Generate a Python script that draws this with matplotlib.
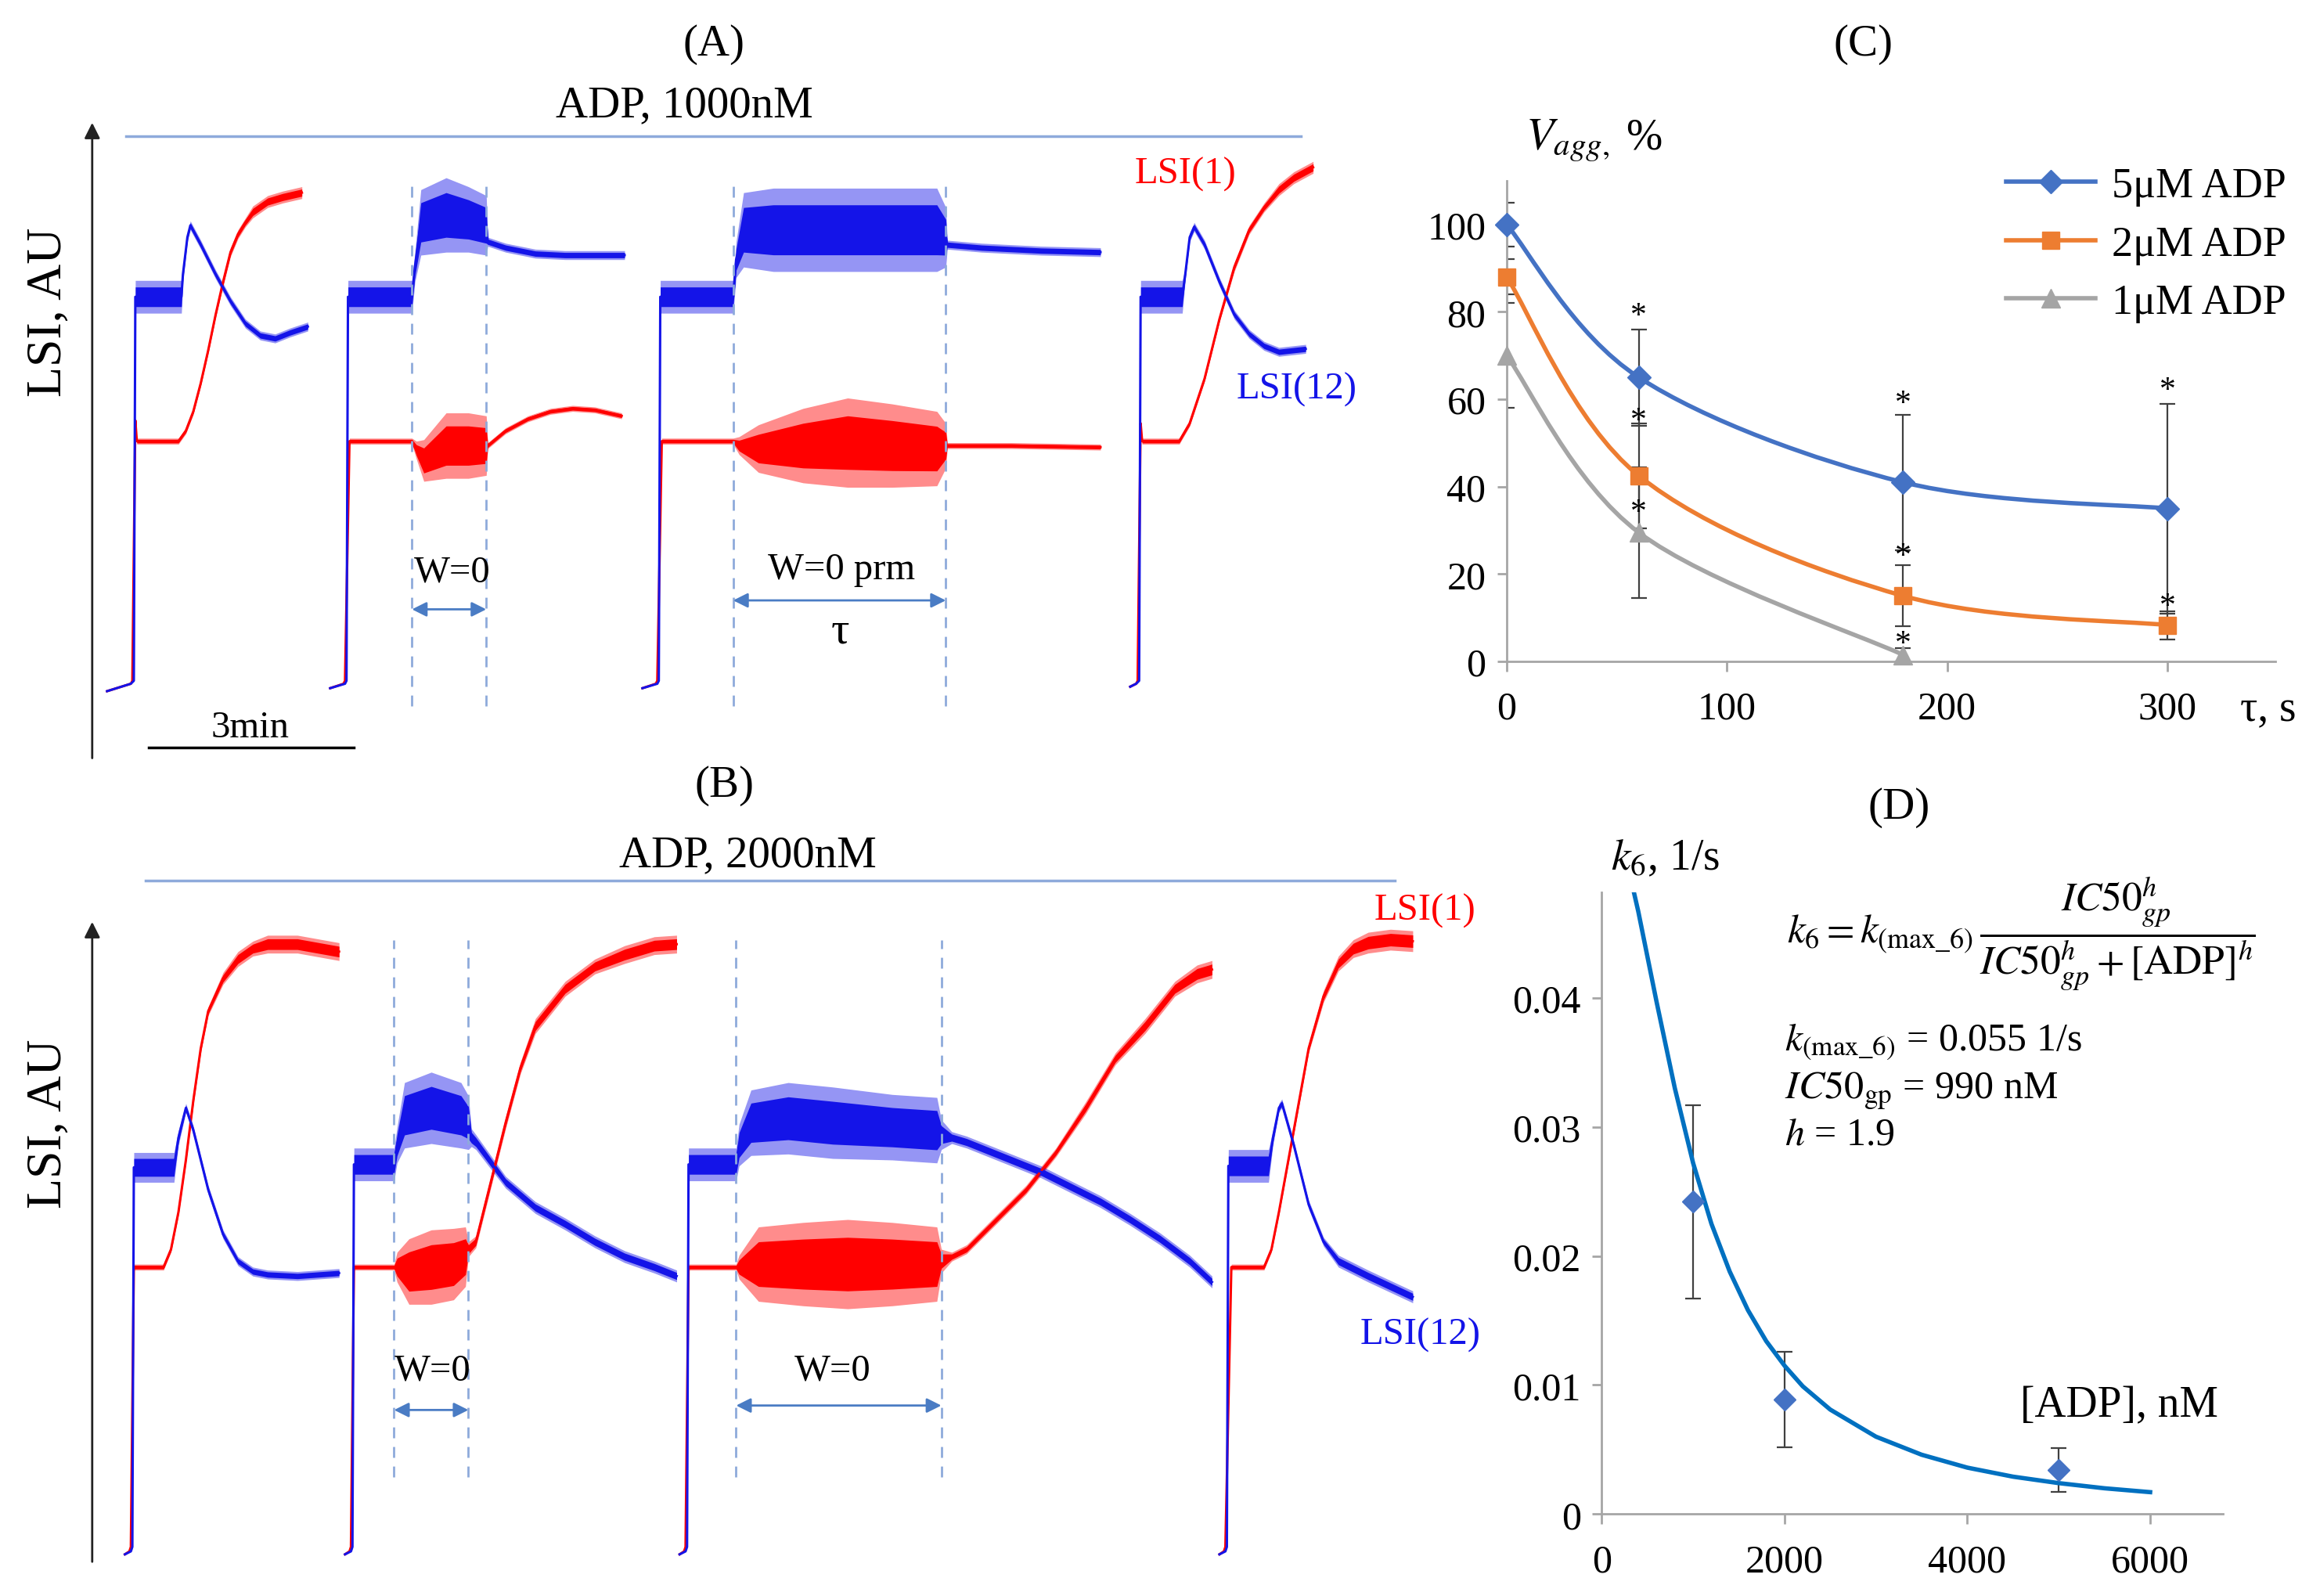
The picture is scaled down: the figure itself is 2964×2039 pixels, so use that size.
import numpy as np
import matplotlib.pyplot as plt
from matplotlib.path import Path
from matplotlib.patches import PathPatch
from matplotlib.lines import Line2D

plt.rcParams['font.family'] = ['Liberation Serif', 'DejaVu Serif']
plt.rcParams['mathtext.fontset'] = 'stix'

BLUE = '#1414e8'
RED = '#ff0000'
GUIDE = '#8eaadb'
ARROW = '#4a7cc4'
SERIF = ['Liberation Serif', 'DejaVu Serif']

# ---------------- panel A traces (t in AU, 138 units = 3 min; LSI in AU) ----------------
a1_blue_t = [72, 88, 90, 91, 122, 123, 126, 128, 135, 145, 155, 165, 175, 185, 195, 207]
a1_blue_lsi = [-2, 3, 5, 263, 263, 278, 303, 311, 298, 278, 260, 245, 237, 235, 239, 243]
a1_blue_noise = [0, 0, 0, 11, 11, 5, 3, 3, 3, 3, 3, 3, 3, 3, 3, 3]
a1_red_t = [72, 88, 89, 91, 92, 120, 125, 130, 135, 140, 145, 150, 155, 160, 165, 170, 180, 190, 203]
a1_red_lsi = [-2, 3, 5, 180, 166, 166, 173, 186, 205, 227, 251, 273, 293, 305, 313, 320, 327, 330, 333]
a1_red_noise = [0, 0, 0, 0, 2, 2, 2, 2, 2, 2, 2, 3, 3, 3, 3, 4, 4, 4, 4]

a2_blue_t = [222, 232, 233, 234, 277, 279, 283, 300, 315, 327, 328, 340, 360, 380, 420]
a2_blue_lsi = [0, 3, 5, 263, 263, 283, 313, 318, 315, 311, 300, 296, 292, 291, 291]
a2_blue_noise = [0, 0, 0, 11, 11, 10, 22, 25, 22, 20, 3, 3, 3, 3, 3]
a2_red_t = [222, 231, 232, 235, 277, 280, 285, 300, 315, 327, 328, 340, 355, 370, 385, 400, 418]
a2_red_lsi = [0, 3, 5, 166, 166, 160, 153, 163, 163, 163, 163, 173, 181, 186, 188, 187, 183]
a2_red_noise = [0, 0, 0, 2, 2, 6, 14, 22, 22, 20, 2, 2, 2, 2, 2, 2, 2]

a3_blue_t = [432, 442, 443, 444, 493, 495, 500, 520, 560, 600, 630, 636, 637, 660, 700, 740]
a3_blue_lsi = [0, 3, 5, 263, 263, 288, 308, 308, 308, 308, 308, 303, 298, 296, 294, 293]
a3_blue_noise = [0, 0, 0, 11, 11, 12, 25, 28, 28, 28, 28, 20, 3, 3, 3, 3]
a3_red_t = [432, 441, 442, 445, 493, 497, 510, 540, 570, 600, 630, 636, 637, 680, 740]
a3_red_lsi = [0, 3, 5, 166, 166, 163, 161, 163, 165, 163, 161, 163, 163, 163, 162]
a3_red_noise = [0, 0, 0, 2, 2, 6, 16, 25, 30, 28, 25, 15, 2, 2, 2]

a4_blue_t = [760, 764, 766, 767, 795, 797, 800, 803, 810, 820, 830, 840, 850, 860, 878]
a4_blue_lsi = [1, 3, 5, 263, 263, 278, 303, 310, 298, 273, 251, 238, 230, 226, 228]
a4_blue_noise = [0, 0, 0, 11, 11, 4, 3, 3, 3, 3, 3, 3, 3, 3, 3]
a4_red_t = [760, 764, 765, 767, 768, 793, 800, 810, 820, 830, 840, 850, 860, 870, 883]
a4_red_lsi = [1, 3, 5, 178, 166, 166, 178, 208, 248, 283, 308, 323, 335, 343, 350]
a4_red_noise = [0, 0, 0, 0, 2, 2, 2, 2, 2, 3, 3, 3, 4, 4, 4]

# ---------------- panel B traces ----------------
b1_blue_t = [84, 88, 89, 90, 117, 120, 125, 130, 140, 150, 160, 170, 180, 200, 228]
b1_blue_lsi = [0, 2, 5, 260, 260, 280, 300, 285, 245, 215, 197, 190, 188, 187, 189]
b1_blue_noise = [0, 0, 0, 10, 10, 5, 3, 3, 3, 3, 3, 3, 3, 3, 3]
b1_red_t = [84, 87, 88, 90, 110, 115, 120, 125, 130, 135, 140, 150, 160, 170, 180, 200, 228]
b1_red_lsi = [0, 2, 5, 193, 193, 205, 230, 265, 305, 340, 365, 387, 400, 407, 410, 410, 405]
b1_red_noise = [0, 0, 0, 2, 2, 2, 2, 2, 3, 3, 3, 4, 5, 5, 6, 6, 6]

b2_blue_t = [232, 236, 237, 238, 265, 267, 272, 290, 310, 315, 317, 320, 340, 360, 380, 400, 420, 440, 455]
b2_blue_lsi = [0, 2, 5, 262, 262, 275, 295, 300, 295, 290, 280, 277, 250, 233, 222, 210, 200, 193, 187]
b2_blue_noise = [0, 0, 0, 11, 11, 12, 22, 24, 22, 18, 6, 5, 4, 4, 4, 4, 4, 4, 4]
b2_red_t = [232, 235, 236, 238, 265, 267, 275, 290, 305, 313, 315, 320, 330, 340, 350, 360, 380, 400, 420, 440, 455]
b2_red_lsi = [0, 2, 5, 193, 193, 193, 190, 193, 195, 200, 205, 210, 250, 290, 327, 355, 380, 395, 403, 409, 410]
b2_red_noise = [0, 0, 0, 2, 2, 10, 22, 25, 24, 20, 5, 4, 4, 4, 4, 5, 5, 5, 6, 6, 6]

b3_blue_t = [457, 461, 462, 463, 495, 497, 505, 530, 560, 600, 630, 633, 640, 650, 680, 700, 720, 740, 760, 780, 800, 815]
b3_blue_lsi = [0, 2, 5, 262, 262, 275, 290, 293, 290, 287, 285, 282, 280, 277, 265, 257, 247, 237, 225, 212, 197, 183]
b3_blue_noise = [0, 0, 0, 11, 11, 14, 22, 24, 24, 22, 22, 10, 4, 4, 4, 4, 4, 4, 4, 4, 4, 4]
b3_red_t = [457, 460, 461, 463, 495, 497, 510, 540, 570, 600, 630, 633, 640, 650, 670, 690, 710, 730, 750, 770, 790, 805, 815]
b3_red_lsi = [0, 2, 5, 193, 193, 193, 195, 195, 195, 195, 195, 197, 200, 205, 225, 245, 270, 300, 333, 355, 380, 390, 393]
b3_red_noise = [0, 0, 0, 2, 2, 8, 25, 28, 30, 28, 25, 8, 3, 3, 3, 3, 3, 4, 4, 5, 5, 6, 6]

b4_blue_t = [820, 824, 825, 826, 853, 856, 860, 862, 870, 880, 890, 900, 920, 950]
b4_blue_lsi = [0, 2, 5, 261, 261, 280, 300, 303, 275, 235, 210, 197, 187, 173]
b4_blue_noise = [0, 0, 0, 11, 11, 5, 3, 3, 3, 3, 3, 4, 4, 4]
b4_red_t = [820, 823, 824, 828, 850, 855, 860, 870, 880, 890, 900, 910, 920, 935, 950]
b4_red_lsi = [0, 2, 5, 193, 193, 205, 230, 285, 340, 375, 397, 407, 411, 413, 412]
b4_red_noise = [0, 0, 0, 2, 2, 2, 2, 3, 3, 4, 5, 6, 7, 7, 7]

# W=0 windows (start, end) in trace time units
a_windows = [(277, 327), (493, 636)]
b_windows = [(265, 315), (495, 633)]

# ---------------- panel C ----------------
c_tau = [0, 60, 180, 300]
c_v5 = [100, 65, 41, 35]
c_e5 = [5, 11, 15.5, 24]
c_v2 = [88, 42.5, 15, 8.3]
c_e2 = [4, 12, 7, 3.2]
c_tau1 = [0, 60, 180]
c_v1 = [70, 29.5, 1.5]
c_e1 = [12, 15, 1.5]
c_star_tau = [60, 60, 60, 180, 180, 180, 300, 300]
c_star_v = [79, 55, 34, 59, 24, 4, 62, 12.5]
c_xticks = [0, 100, 200, 300]
c_yticks = [0, 20, 40, 60, 80, 100]

# ---------------- panel D ----------------
d_adp = [1000, 2000, 5000]
d_k6 = [0.0242, 0.0089, 0.0034]
d_err = [0.0075, 0.0037, 0.0017]
d_fit_adp = [250, 300, 400, 500, 600, 800, 1000, 1200, 1400, 1600, 1800, 2000, 2200,
             2500, 3000, 3500, 4000, 4500, 5000, 5500, 6000]
d_fit_k6 = [0.0513, 0.0498, 0.0467, 0.0432, 0.0397, 0.0330, 0.0272, 0.0225, 0.0188,
            0.0158, 0.0134, 0.0115, 0.0099, 0.0081, 0.0060, 0.0046, 0.0036, 0.0029,
            0.0024, 0.0020, 0.0017]
d_xticks = [0, 2000, 4000, 6000]
d_yticks = [0, 0.01, 0.02, 0.03, 0.04]
d_yticklabels = ['0', '0.01', '0.02', '0.03', '0.04']


def trace(ax, t, lsi, noise, color):
    t = np.asarray(t, float)
    lsi = np.asarray(lsi, float)
    noise = np.asarray(noise, float)
    # spike range (light) and dense core (solid)
    ax.fill_between(t, lsi - noise, lsi + noise, color=color, lw=0, alpha=0.45)
    ax.fill_between(t, lsi - 0.6 * noise, lsi + 0.6 * noise, color=color, lw=0)
    ax.plot(t, lsi, color=color, lw=2.2)


def smooth_path(x, y):
    p = np.column_stack([x, y]).astype(float)
    pts = np.vstack([p[0], p, p[-1]])
    verts = [p[0]]
    codes = [Path.MOVETO]
    for i in range(1, len(pts) - 2):
        p0, p1, p2, p3 = pts[i - 1], pts[i], pts[i + 1], pts[i + 2]
        verts += [p1 + (p2 - p0) / 6, p2 - (p3 - p1) / 6, p2]
        codes += [Path.CURVE4] * 3
    return Path(verts, codes)


def double_arrow(ax, x0, x1, y):
    ax.annotate('', xy=(x1, y), xytext=(x0, y),
                arrowprops=dict(arrowstyle='<|-|>', color=ARROW, lw=2,
                                mutation_scale=28, shrinkA=0, shrinkB=0))


def style_axes(ax, xt, yt, ylabels=None):
    for s in ('top', 'right'):
        ax.spines[s].set_visible(False)
    for s in ('left', 'bottom'):
        ax.spines[s].set_color(SPINE)
        ax.spines[s].set_linewidth(2)
    ax.set_xticks(xt)
    ax.set_xticklabels([str(v) for v in xt], fontfamily=SERIF, fontsize=36)
    ax.set_yticks(yt)
    ax.set_yticklabels(ylabels or [str(v) for v in yt], fontfamily=SERIF, fontsize=36)
    ax.tick_params(length=9, width=2, color=SPINE, pad=10)
    ax.tick_params(axis='x', pad=18)


fig = plt.figure(figsize=(29.64, 20.40), dpi=100)

# ---------------- A ----------------
axA = fig.add_axes([0, 0.5154, 0.641, 0.4287])
axA.set_xlim(0, 1000)
axA.set_ylim(-57, 403)
axA.axis('off')
for t, l, n, c in [
        (a1_red_t, a1_red_lsi, a1_red_noise, RED), (a1_blue_t, a1_blue_lsi, a1_blue_noise, BLUE),
        (a2_red_t, a2_red_lsi, a2_red_noise, RED), (a2_blue_t, a2_blue_lsi, a2_blue_noise, BLUE),
        (a3_red_t, a3_red_lsi, a3_red_noise, RED), (a3_blue_t, a3_blue_lsi, a3_blue_noise, BLUE),
        (a4_red_t, a4_red_lsi, a4_red_noise, RED), (a4_blue_t, a4_blue_lsi, a4_blue_noise, BLUE)]:
    trace(axA, t, l, n, c)
for w0, w1 in a_windows:
    for x in (w0, w1):
        axA.plot([x, x], [-12, 338], color=GUIDE, lw=2, ls=(0, (5, 4)))
double_arrow(axA, 277, 327, 53)
double_arrow(axA, 493, 636, 59)
axA.text(304, 78, 'W=0', fontsize=35, ha='center', va='center')
axA.text(566, 80, 'W=0 prm', fontsize=35, ha='center', va='center')
axA.text(565, 38, 'τ', fontsize=42, ha='center', va='center')
axA.annotate('', xy=(62, 380), xytext=(62, -47),
             arrowprops=dict(arrowstyle='-|>', color='#222222', lw=2,
                             mutation_scale=30, shrinkA=0, shrinkB=0))
axA.text(33, 253, 'LSI, AU', fontsize=46, rotation=90, ha='center', va='center')
axA.plot([85, 875], [371, 371], color=GUIDE, lw=2.5)
axA.text(460, 392, 'ADP, 1000nM', fontsize=41, ha='center', va='center')
axA.plot([100, 238], [-40, -40], color='black', lw=2.5)
axA.text(168, -26, '3min', fontsize=35, ha='center', va='center')
axA.text(797, 346, 'LSI(1)', fontsize=35, color=RED, ha='center', va='center')
axA.text(872, 201, 'LSI(12)', fontsize=35, color=BLUE, ha='center', va='center')

# ---------------- B ----------------
axB = fig.add_axes([0, 0.0028, 0.641, 0.4753])
axB.set_xlim(0, 1000)
axB.set_ylim(-25, 485)
axB.axis('off')
for t, l, n, c in [
        (b1_red_t, b1_red_lsi, b1_red_noise, RED), (b1_blue_t, b1_blue_lsi, b1_blue_noise, BLUE),
        (b2_red_t, b2_red_lsi, b2_red_noise, RED), (b2_blue_t, b2_blue_lsi, b2_blue_noise, BLUE),
        (b3_red_t, b3_red_lsi, b3_red_noise, RED), (b3_blue_t, b3_blue_lsi, b3_blue_noise, BLUE),
        (b4_red_t, b4_red_lsi, b4_red_noise, RED), (b4_blue_t, b4_blue_lsi, b4_blue_noise, BLUE)]:
    trace(axB, t, l, n, c)
for w0, w1 in b_windows:
    for x in (w0, w1):
        axB.plot([x, x], [52, 413], color=GUIDE, lw=2, ls=(0, (5, 4)))
double_arrow(axB, 265, 315, 97)
double_arrow(axB, 495, 633, 100)
axB.text(291, 124, 'W=0', fontsize=35, ha='center', va='center')
axB.text(560, 124, 'W=0', fontsize=35, ha='center', va='center')
axB.annotate('', xy=(62, 425), xytext=(62, -5),
             arrowprops=dict(arrowstyle='-|>', color='#222222', lw=2,
                             mutation_scale=30, shrinkA=0, shrinkB=0))
axB.text(33, 290, 'LSI, AU', fontsize=46, rotation=90, ha='center', va='center')
axB.plot([98, 938], [453, 453], color=GUIDE, lw=2.5)
axB.text(503, 470, 'ADP, 2000nM', fontsize=41, ha='center', va='center')
axB.text(958, 433, 'LSI(1)', fontsize=35, color=RED, ha='center', va='center')
axB.text(955, 148, 'LSI(12)', fontsize=35, color=BLUE, ha='center', va='center')

# panel letters
fig.text(0.3077, 0.972, '(A)', fontsize=41, ha='center', va='center')
fig.text(0.3122, 0.5079, '(B)', fontsize=41, ha='center', va='center')
fig.text(0.8032, 0.972, '(C)', fontsize=41, ha='center', va='center')
fig.text(0.8186, 0.4939, '(D)', fontsize=41, ha='center', va='center')

SPINE = '#a6a6a6'

# ---------------- C ----------------
axC = fig.add_axes([0.6494, 0.5853, 0.3314, 0.3010])
axC.set_xlim(0, 349)
axC.set_ylim(0, 110)
style_axes(axC, c_xticks, c_yticks)

series = [(c_tau, c_v5, c_e5, '#4472c4', 'D', 15, '5μM ADP'),
          (c_tau, c_v2, c_e2, '#ed7d31', 's', 16, '2μM ADP'),
          (c_tau1, c_v1, c_e1, '#a5a5a5', '^', 17, '1μM ADP')]
handles = []
for x, y, e, col, mk, ms, lab in series:
    axC.errorbar(x, y, yerr=e, fmt='none', ecolor='#404040', elinewidth=1.6,
                 capsize=7, capthick=1.6, zorder=2)
    axC.add_patch(PathPatch(smooth_path(x, y), fill=False, edgecolor=col, lw=4, zorder=3))
    axC.plot(x, y, ls='none', marker=mk, ms=ms, color=col, zorder=4, clip_on=False)
    handles.append(Line2D([], [], color=col, lw=4, marker=mk, ms=ms))
for x, y in zip(c_star_tau, c_star_v):
    axC.text(x, y, '*', fontsize=30, ha='center', va='center', zorder=5)
axC.legend(handles, [s[6] for s in series], loc='upper left', bbox_to_anchor=(0.6, 1.11),
           frameon=False, fontsize=39, handlelength=2.1, labelspacing=0.45, handletextpad=0.4)
axC.text(0.025, 1.085, r'$V_{agg,}$', fontsize=42, transform=axC.transAxes, ha='left', va='center')
axC.text(0.155, 1.09, '%', fontsize=40, transform=axC.transAxes, ha='left', va='center')
axC.text(0.99, -0.10, 'τ, s', fontsize=40, transform=axC.transAxes, ha='center', va='center')

# ---------------- D ----------------
axD = fig.add_axes([0.6904, 0.0513, 0.2679, 0.3895])
axD.set_xlim(0, 6800)
axD.set_ylim(0, 0.0482)
style_axes(axD, d_xticks, d_yticks, d_yticklabels)
axD.errorbar(d_adp, d_k6, yerr=d_err, fmt='none', ecolor='#404040', elinewidth=1.6,
             capsize=7, capthick=1.6, zorder=2)
axD.plot(d_fit_adp, d_fit_k6, color='#0070c0', lw=4, zorder=3)
axD.plot(d_adp, d_k6, ls='none', marker='D', ms=14, color='#4472c4', zorder=4)
axD.text(0.015, 1.055, r'$k_6$, 1/s', fontsize=40, transform=axD.transAxes, ha='left', va='center')
axD.text(0.675, 0.935,
         r'$k_6 = k_{(\mathrm{max\_6})}\,\dfrac{IC50_{gp}^{h}}{IC50_{gp}^{h} + [\mathrm{ADP}]^{h}}$',
         fontsize=37, transform=axD.transAxes, ha='center', va='center')
axD.text(0.294, 0.76, r'$k_{(\mathrm{max\_6})}$ = 0.055 1/s', fontsize=36,
         transform=axD.transAxes, ha='left', va='center')
axD.text(0.294, 0.682, r'$IC50_{\mathrm{gp}}$ = 990 nM', fontsize=36,
         transform=axD.transAxes, ha='left', va='center')
axD.text(0.294, 0.61, r'$h$ = 1.9', fontsize=36,
         transform=axD.transAxes, ha='left', va='center')
axD.text(0.833, 0.175, '[ADP], nM', fontsize=40, transform=axD.transAxes, ha='center', va='center')

fig.savefig('out.png', dpi=100)
